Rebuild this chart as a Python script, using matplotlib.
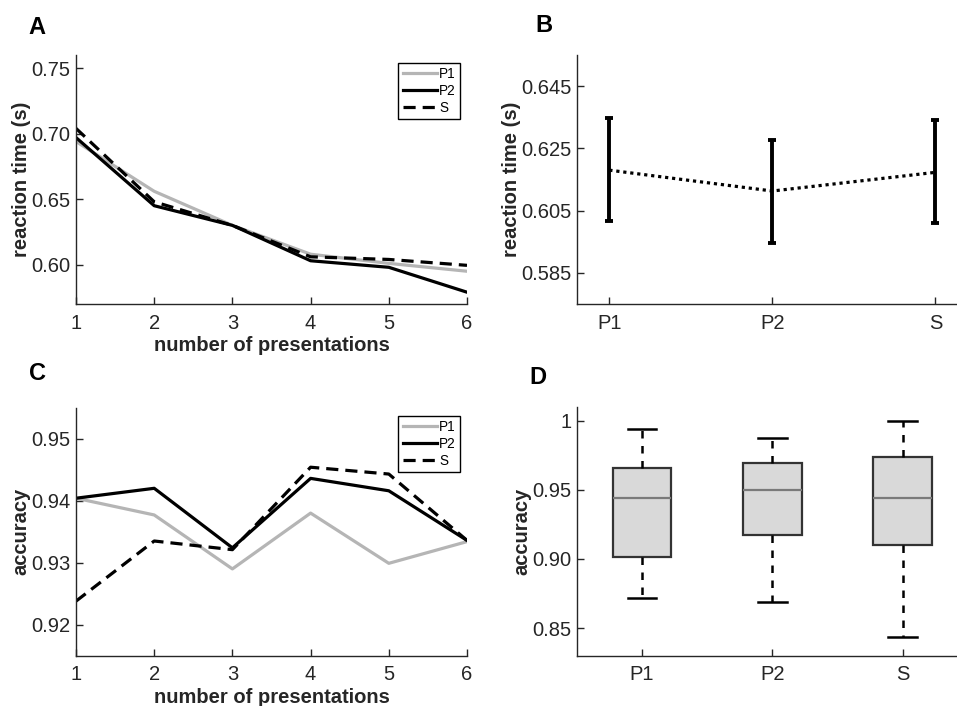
import matplotlib
matplotlib.use("Agg")
import matplotlib.pyplot as plt
import numpy as np

plt.rcParams['font.family'] = ['Liberation Sans', 'DejaVu Sans']

# ---- data ----
presentations = [1, 2, 3, 4, 5, 6]
rt_p1 = [0.694, 0.656, 0.630, 0.608, 0.601, 0.595]
rt_p2 = [0.697, 0.645, 0.630, 0.603, 0.598, 0.579]
rt_s = [0.704, 0.648, 0.630, 0.606, 0.604, 0.5995]

acc_p1 = [0.9404, 0.9377, 0.9290, 0.9380, 0.9299, 0.9334]
acc_p2 = [0.9404, 0.9420, 0.9324, 0.9436, 0.9416, 0.9336]
acc_s = [0.9238, 0.9335, 0.9321, 0.9454, 0.9443, 0.9336]

conditions = ['P1', 'P2', 'S']
rt_mean = [0.6180, 0.6113, 0.6173]
rt_upper = [0.6347, 0.6277, 0.6340]
rt_lower = [0.6016, 0.5947, 0.6010]

box_whislo = [0.8715, 0.8686, 0.8437]
box_q1 = [0.9015, 0.9174, 0.9097]
box_med = [0.9440, 0.9500, 0.9440]
box_q3 = [0.9660, 0.9690, 0.9737]
box_whishi = [0.9940, 0.9877, 1.0000]

W, H = 957, 706
fig = plt.figure(figsize=(W / 100, H / 100), dpi=100)

TXT = '#262626'
FS = 14.5

def px_axes(l, t, r, b):
    return fig.add_axes([l / W, 1 - b / H, (r - l) / W, (b - t) / H])

def style(ax):
    for s in ['top', 'right']:
        ax.spines[s].set_visible(False)
    for s in ['left', 'bottom']:
        ax.spines[s].set_color(TXT)
        ax.spines[s].set_linewidth(1.0)
    ax.tick_params(direction='in', length=5, width=1.0, color=TXT,
                   labelsize=FS, labelcolor=TXT, pad=4)
    ax.tick_params(axis='x', pad=7)

GRAY = '#b5b5b5'
LW = 2.3
DASH = (0, (3.8, 2.2))

axA = px_axes(76, 55, 467, 304)
axB = px_axes(576.7, 55, 968, 304)
axC = px_axes(76, 407.7, 467, 655.7)
axD = px_axes(576.7, 406.7, 968, 655.7)

# ---- A ----
axA.plot(presentations, rt_p1, color=GRAY, lw=LW, label='P1')
axA.plot(presentations, rt_p2, color='black', lw=LW, label='P2')
axA.plot(presentations, rt_s, color='black', lw=LW, ls=DASH, label='S')
axA.set_xlim(1, 6)
axA.set_ylim(0.57, 0.76)
axA.set_xticks(presentations)
axA.set_yticks([0.60, 0.65, 0.70, 0.75])
axA.set_yticklabels(['0.60', '0.65', '0.70', '0.75'])
style(axA)

# ---- C ----
axC.plot(presentations, acc_p1, color=GRAY, lw=LW, label='P1')
axC.plot(presentations, acc_p2, color='black', lw=LW, label='P2')
axC.plot(presentations, acc_s, color='black', lw=LW, ls=DASH, label='S')
axC.set_xlim(1, 6)
axC.set_ylim(0.915, 0.955)
axC.set_xticks(presentations)
axC.set_yticks([0.92, 0.93, 0.94, 0.95])
axC.set_yticklabels(['0.92', '0.93', '0.94', '0.95'])
style(axC)

for ax in (axA, axC):
    leg = ax.legend(loc='upper right', bbox_to_anchor=(1 - 7 / 391, 1 - 8 / 249),
                    fontsize=9.8, handlelength=2.5, handletextpad=0.2,
                    borderpad=0.3, labelspacing=0.22, fancybox=False,
                    framealpha=1, edgecolor='black', borderaxespad=0)
    leg.get_frame().set_linewidth(1.0)
    ax.set_xlabel('number of presentations', fontsize=FS, fontweight='bold',
                  color=TXT, va='center')

axA.xaxis.set_label_coords(0.5, -0.165)
axC.xaxis.set_label_coords(0.5, -0.167)
axA.set_ylabel('reaction time (s)', fontsize=FS, fontweight='bold', color=TXT, va='center')
axA.yaxis.set_label_coords(-0.139, 0.5)
axC.set_ylabel('accuracy', fontsize=FS, fontweight='bold', color=TXT, va='center')
axC.yaxis.set_label_coords(-0.141, 0.5)

# ---- B ----
xb = np.arange(1, len(conditions) + 1)
mean = np.array(rt_mean)
yerr = np.vstack([mean - np.array(rt_lower), np.array(rt_upper) - mean])
axB.plot(xb, mean, color='black', lw=2.3, ls=(0, (1, 1.2)))
axB.errorbar(xb, mean, yerr=yerr, fmt='none', ecolor='black', elinewidth=2.8,
             capsize=2.8, capthick=2.8)
axB.set_xlim(0.8, 3.2)
axB.set_ylim(0.575, 0.655)
axB.set_xticks(xb)
axB.set_xticklabels(conditions)
axB.set_yticks([0.585, 0.605, 0.625, 0.645])
axB.set_yticklabels(['0.585', '0.605', '0.625', '0.645'])
style(axB)
axB.set_ylabel('reaction time (s)', fontsize=FS, fontweight='bold', color=TXT, va='center')
axB.yaxis.set_label_coords(-0.166, 0.5)

# ---- D ----
stats = []
for i, name in enumerate(conditions):
    stats.append(dict(label=name, whislo=box_whislo[i], q1=box_q1[i], med=box_med[i],
                      q3=box_q3[i], whishi=box_whishi[i], fliers=[]))
axD.bxp(stats, positions=xb, widths=0.45, patch_artist=True, showfliers=False,
        boxprops=dict(facecolor='#d9d9d9', edgecolor='#333333', linewidth=1.6),
        medianprops=dict(color='#7a7a7a', linewidth=1.6),
        whiskerprops=dict(color='black', linewidth=1.8, linestyle=(0, (3, 3))),
        capprops=dict(color='black', linewidth=1.8), capwidths=0.22)
axD.set_xlim(0.5, 3.5)
axD.set_ylim(0.83, 1.01)
axD.set_xticks(xb)
axD.set_xticklabels(conditions)
axD.set_yticks([0.85, 0.90, 0.95, 1.0])
axD.set_yticklabels(['0.85', '0.90', '0.95', '1'])
style(axD)
axD.set_ylabel('accuracy', fontsize=FS, fontweight='bold', color=TXT, va='center')
axD.yaxis.set_label_coords(-0.1406, 0.5)

# ---- panel letters ----
for letter, x, y in [('A', 28, 28), ('B', 535, 25), ('C', 29, 374), ('D', 529, 377)]:
    fig.text(x / W, 1 - y / H, letter, fontsize=17, fontweight='bold',
             ha='left', va='center', color='black')

fig.savefig('out.png', dpi=100)
